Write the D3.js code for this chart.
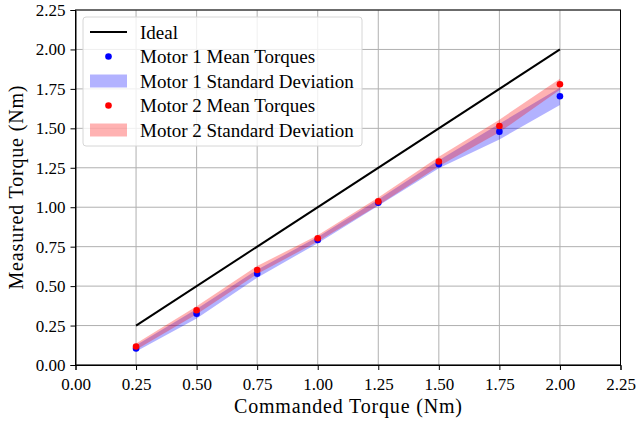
<!DOCTYPE html>
<html>
<head>
<meta charset="utf-8">
<script src="https://cdn.jsdelivr.net/npm/d3@7"></script>
<style>
  body { margin: 0; background: #fff; }
  svg text { font-family: "Liberation Serif", serif; fill: #000; }
</style>
</head>
<body>
<svg id="chart" width="636" height="426"></svg>
<script>
// commanded torque steps
var commanded = [0.25, 0.5, 0.75, 1.0, 1.25, 1.5, 1.75, 2.0];
var motor1Mean = [0.105, 0.325, 0.578, 0.792, 1.029, 1.272, 1.479, 1.703];
var motor1Std  = [0.02, 0.03, 0.025, 0.02, 0.02, 0.025, 0.05, 0.055];
var motor2Mean = [0.117, 0.347, 0.602, 0.803, 1.037, 1.290, 1.515, 1.779];
var motor2Std  = [0.02, 0.025, 0.025, 0.02, 0.025, 0.03, 0.04, 0.035];
var ideal = [0.25, 2.0];
var tickValues = [0, 0.25, 0.5, 0.75, 1.0, 1.25, 1.5, 1.75, 2.0, 2.25];

var margin = { top: 10, right: 15.5, bottom: 61, left: 75.5 },
    width = 636 - margin.left - margin.right,
    height = 426 - margin.top - margin.bottom;

var svg = d3.select('#chart');
var g = svg.append('g')
    .attr('transform', 'translate(' + margin.left + ',' + margin.top + ')');

var x = d3.scaleLinear().domain([0, 2.25]).range([0, width]);
var y = d3.scaleLinear().domain([0, 2.25]).range([height, 0]);
var fmt = d3.format('.2f');

// grid
g.append('g').selectAll('line').data(tickValues).enter().append('line')
    .attr('x1', function (d) { return x(d); }).attr('x2', function (d) { return x(d); })
    .attr('y1', 0).attr('y2', height)
    .attr('stroke', '#b0b0b0').attr('stroke-width', 1);
g.append('g').selectAll('line').data(tickValues).enter().append('line')
    .attr('y1', function (d) { return y(d); }).attr('y2', function (d) { return y(d); })
    .attr('x1', 0).attr('x2', width)
    .attr('stroke', '#b0b0b0').attr('stroke-width', 1);

// ideal line
g.append('line')
    .attr('x1', x(ideal[0])).attr('y1', y(ideal[0]))
    .attr('x2', x(ideal[1])).attr('y2', y(ideal[1]))
    .attr('stroke', '#000').attr('stroke-width', 2);

// std bands
function band(mean, std) {
    return d3.area()
        .x(function (d, i) { return x(commanded[i]); })
        .y0(function (d, i) { return y(mean[i] - std[i]); })
        .y1(function (d, i) { return y(mean[i] + std[i]); })(mean);
}
g.append('path').attr('d', band(motor1Mean, motor1Std))
    .attr('fill', '#0000ff').attr('fill-opacity', 0.3);
g.append('path').attr('d', band(motor2Mean, motor2Std))
    .attr('fill', '#ff0000').attr('fill-opacity', 0.3);

// mean points
g.append('g').selectAll('circle').data(motor1Mean).enter().append('circle')
    .attr('cx', function (d, i) { return x(commanded[i]); })
    .attr('cy', function (d) { return y(d); })
    .attr('r', 3.3).attr('fill', '#0000ff');
g.append('g').selectAll('circle').data(motor2Mean).enter().append('circle')
    .attr('cx', function (d, i) { return x(commanded[i]); })
    .attr('cy', function (d) { return y(d); })
    .attr('r', 3.3).attr('fill', '#ff0000');

// axes
var xAxis = d3.axisBottom(x).tickValues(tickValues).tickFormat(fmt).tickSizeOuter(0).tickSize(5).tickPadding(5);
var yAxis = d3.axisLeft(y).tickValues(tickValues).tickFormat(fmt).tickSizeOuter(0).tickSize(5).tickPadding(5);
var gx = g.append('g').attr('transform', 'translate(0,' + height + ')').call(xAxis);
var gy = g.append('g').call(yAxis);
[gx, gy].forEach(function (a) {
    a.selectAll('text').style('font-family', '"Liberation Serif", serif').style('font-size', '17px');
    a.selectAll('line, path').attr('stroke', '#000').attr('stroke-width', 1);
});
gx.selectAll('text').attr('dy', '0.9em');

// frame
g.append('rect').attr('width', width).attr('height', height)
    .attr('fill', 'none').attr('stroke', '#000').attr('stroke-width', 1);

// axis labels
svg.append('text')
    .attr('x', margin.left + width / 2).attr('y', 413)
    .attr('text-anchor', 'middle').style('font-size', '20px')
    .attr('textLength', 228).attr('lengthAdjust', 'spacing')
    .text('Commanded Torque (Nm)');
svg.append('text')
    .attr('transform', 'translate(23,' + (margin.top + height / 2) + ') rotate(-90)')
    .attr('text-anchor', 'middle').style('font-size', '20px')
    .attr('textLength', 204).attr('lengthAdjust', 'spacing')
    .text('Measured Torque (Nm)');

// legend
var legendItems = [
    { label: 'Ideal', type: 'line', color: '#000' },
    { label: 'Motor 1 Mean Torques', type: 'dot', color: '#0000ff' },
    { label: 'Motor 1 Standard Deviation', type: 'patch', color: '#0000ff' },
    { label: 'Motor 2 Mean Torques', type: 'dot', color: '#ff0000' },
    { label: 'Motor 2 Standard Deviation', type: 'patch', color: '#ff0000' }
];
var lg = svg.append('g').attr('transform', 'translate(83,17)');
lg.append('rect').attr('width', 279).attr('height', 129).attr('rx', 3)
    .attr('fill', '#fff').attr('fill-opacity', 0.8)
    .attr('stroke', '#d6d6d6').attr('stroke-width', 1);
var rows = lg.selectAll('g.row').data(legendItems).enter().append('g')
    .attr('class', 'row')
    .attr('transform', function (d, i) { return 'translate(0,' + (15 + i * 24.5) + ')'; });
rows.each(function (d) {
    var r = d3.select(this);
    if (d.type === 'line') {
        r.append('line').attr('x1', 7).attr('x2', 44).attr('stroke', d.color).attr('stroke-width', 2);
    } else if (d.type === 'dot') {
        r.append('circle').attr('cx', 25.5).attr('r', 3.3).attr('fill', d.color);
    } else {
        r.append('rect').attr('x', 7).attr('y', -6.5).attr('width', 37).attr('height', 13)
            .attr('fill', d.color).attr('fill-opacity', 0.3);
    }
    r.append('text').attr('x', 57).attr('dy', '0.35em').style('font-size', '19px').text(d.label);
});
</script>
</body>
</html>
